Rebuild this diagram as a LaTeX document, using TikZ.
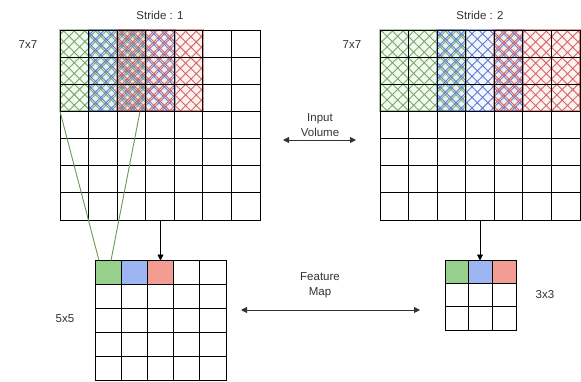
\documentclass[tikz,border=0pt]{standalone}
\usepackage{fontspec}
\setmainfont{Liberation Sans}
\usetikzlibrary{patterns.meta,arrows.meta}
\definecolor{gS}{HTML}{5E9B48}
\definecolor{bS}{HTML}{3F64C8}
\definecolor{rS}{HTML}{C8403A}
\definecolor{gF}{HTML}{97D08C}
\definecolor{bF}{HTML}{9DB5F2}
\definecolor{rF}{HTML}{F29C94}
\definecolor{txt}{HTML}{333333}
\definecolor{lineG}{HTML}{6A9A50}
\tikzset{
  gridbox/.style={draw=black, line width=1pt, inner sep=0pt, outer sep=0pt, anchor=north west},
  gl/.style={draw=black, line width=1pt},
  lbl/.style={text=txt, font=\fontsize{11.5}{15}\selectfont, align=center, inner sep=0pt},
  hatchG/.style={pattern={Hatch[angle=45,distance=7.5pt,line width=0.9pt]}, pattern color=gS!85},
  hatchB/.style={pattern={Hatch[angle=45,distance=7.5pt,line width=0.9pt,yshift=2.5pt]}, pattern color=bS!85},
  hatchR/.style={pattern={Hatch[angle=45,distance=7.5pt,line width=0.9pt,yshift=5pt]}, pattern color=rS!80},
  tint/.style={fill opacity=0.12},
  rim/.style={line width=2pt, draw opacity=0.5},
  arr/.style={-{Triangle[length=6pt,width=6pt]}, line width=0.9pt, draw=black},
  darr/.style={{Triangle[length=6pt,width=6pt]}-{Triangle[length=6pt,width=6pt]}, line width=0.9pt, draw=txt},
}
\begin{document}
\begin{tikzpicture}[x=1pt,y=-1pt]
\useasboundingbox (0,0) rectangle (581,381);
\fill[white] (0,0) rectangle (581,381);

% ---------- left input grid (stride 1) ----------
\fill[gF,tint] (60,30) rectangle (146.3,111.4);
\path[hatchG] (60,30) rectangle (146.3,111.4);
\draw[gS,rim] (60,30) rectangle (146.3,111.4);
\fill[bF,tint] (88.6,30) rectangle (174.9,111.4);
\path[hatchB] (88.6,30) rectangle (174.9,111.4);
\draw[bS,rim] (88.6,30) rectangle (174.9,111.4);
\fill[rF,tint] (117.1,30) rectangle (203.4,111.4);
\path[hatchR] (117.1,30) rectangle (203.4,111.4);
\draw[rS,rim] (117.1,30) rectangle (203.4,111.4);

\node[gridbox, minimum width=200pt, minimum height=190pt] (in1) at (60,30) {};
\foreach \i in {1,...,6} {
  \draw[gl] (60+\i*200/7,30) -- (60+\i*200/7,220);
  \draw[gl] (60,30+\i*190/7) -- (260,30+\i*190/7);
}

% ---------- right input grid (stride 2) ----------
\fill[gF,tint] (380,30) rectangle (466.3,111.4);
\path[hatchG] (380,30) rectangle (466.3,111.4);
\draw[gS,rim] (380,30) rectangle (466.3,111.4);
\fill[bF,tint] (437.1,30) rectangle (523.4,111.4);
\path[hatchB] (437.1,30) rectangle (523.4,111.4);
\draw[bS,rim] (437.1,30) rectangle (523.4,111.4);
\fill[rF,tint] (494.3,30) rectangle (580,111.4);
\path[hatchR] (494.3,30) rectangle (580,111.4);
\draw[rS,rim] (494.3,30) rectangle (580,111.4);

\node[gridbox, minimum width=200pt, minimum height=190pt] (in2) at (380,30) {};
\foreach \i in {1,...,6} {
  \draw[gl] (380+\i*200/7,30) -- (380+\i*200/7,220);
  \draw[gl] (380,30+\i*190/7) -- (580,30+\i*190/7);
}

% ---------- 5x5 feature map ----------
\fill[gF] (95,260.5) rectangle (121.2,284.5);
\fill[bF] (121.2,260.5) rectangle (147.4,284.5);
\fill[rF] (147.4,260.5) rectangle (173.6,284.5);
\node[gridbox, minimum width=131pt, minimum height=120pt] (out1) at (95,260.5) {};
\foreach \i in {1,...,4} {
  \draw[gl] (95+\i*131/5,260.5) -- (95+\i*131/5,380.5);
  \draw[gl] (95,260.5+\i*24) -- (226,260.5+\i*24);
}

% ---------- 3x3 feature map ----------
\fill[gF] (445,260.5) rectangle (468.7,283.5);
\fill[bF] (468.7,260.5) rectangle (492.3,283.5);
\fill[rF] (492.3,260.5) rectangle (516,283.5);
\node[gridbox, minimum width=71pt, minimum height=69.5pt] (out2) at (445,260.5) {};
\foreach \i in {1,2} {
  \draw[gl] (445+\i*71/3,260.5) -- (445+\i*71/3,330);
  \draw[gl] (445,260.5+\i*69.5/3) -- (516,260.5+\i*69.5/3);
}

% ---------- receptive field lines ----------
\coordinate (rfA) at (60,111.4);
\coordinate (rfB) at (140,111.4);
\coordinate (rfC) at (99,260.5);
\coordinate (rfD) at (111,260.5);
\draw[lineG, line width=0.9pt] (rfA) -- (rfC);
\draw[lineG, line width=0.9pt] (rfB) -- (rfD);

% ---------- arrows ----------
\draw[arr] (in1.south -| 160.5,0) -- (out1.north -| 160.5,0);
\draw[arr] (in2.south -| 480,0) -- (out2.north -| 480,0);

\coordinate (ivL) at (283,140);
\coordinate (ivR) at (356,140);
\draw[darr] (ivL) -- (ivR);
\coordinate (fmL) at (241,310);
\coordinate (fmR) at (420,310);
\draw[darr] (fmL) -- (fmR);

% ---------- labels ----------
\node[lbl] (t1) at (160,15) {Stride : 1};
\node[lbl] (t2) at (480,15) {Stride : 2};
\node[lbl] (s1) at (28,45) {7x7};
\node[lbl] (s2) at (352,45) {7x7};
\node[lbl] (s3) at (65,319) {5x5};
\node[lbl] (s4) at (545,295) {3x3};
\node[lbl] (iv) at (320,125.5) {Input\\Volume};
\node[lbl] (fm) at (320,285.5) {Feature\\Map};
\end{tikzpicture}
\end{document}
